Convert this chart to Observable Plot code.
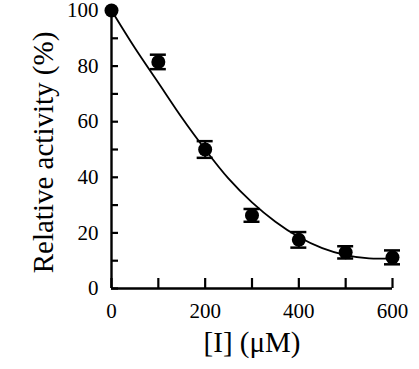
<!DOCTYPE html>
<html>
<head>
<meta charset="utf-8">
<script src="https://cdn.jsdelivr.net/npm/d3@7"></script>
<script src="https://cdn.jsdelivr.net/npm/@observablehq/plot@0.6"></script>
<style>
  html, body { margin: 0; padding: 0; background: #fff; }
  svg { font-family: "Liberation Serif", "Times New Roman", serif; }
</style>
</head>
<body>
<div id="chart"></div>
<script>
// Measured data (concentration of inhibitor, µM)
const conc = [0, 100, 200, 300, 400, 500, 600];
const activity = [100, 81.5, 50, 26.3, 17.5, 13, 11.2];
const errors = [0, 2.6, 3, 2.3, 2.8, 2.2, 2.5];

// Fitted curve
const fitX = [0, 50, 100, 150, 200, 250, 300, 350, 400, 450, 500, 550, 600];
const fitY = [100, 86.5, 74, 61.5, 50, 39.5, 31, 24, 18.5, 14.5, 12, 10.8, 10.8];

// Tick labels
const xTickLabels = [0, 200, 400, 600];
const xMinorTicks = [0, 100, 200, 300, 400, 500, 600];
const yTickLabels = [0, 20, 40, 60, 80, 100];
const yMinorTicks = [0, 10, 20, 30, 40, 50, 60, 70, 80, 90, 100];

const points = conc.map((x, i) => ({x, y: activity[i], lo: activity[i] - errors[i], hi: activity[i] + errors[i], e: errors[i]}));
const bars = points.filter(d => d.e > 0);
const fit = fitX.map((x, i) => ({x, y: fitY[i]}));

const chart = Plot.plot({
  width: 419,
  height: 369,
  marginLeft: 111,
  marginRight: 27,
  marginTop: 10,
  marginBottom: 81,
  style: {fontFamily: "Liberation Serif, serif", color: "#000", background: "#fff"},
  x: {domain: [0, 600], label: null},
  y: {domain: [0, 100], label: null},
  marks: [
    // minor ticks (inward)
    Plot.axisX({ticks: xMinorTicks, tickSize: 10, dy: -10, text: null, strokeWidth: 2.2}),
    Plot.axisY({ticks: yMinorTicks, tickSize: 7, dx: 7, text: null, strokeWidth: 2.2}),
    // labels
    Plot.axisX({ticks: xTickLabels, tickSize: 0, tickPadding: 15, fontSize: 21, tickFormat: d => String(d), label: null}),
    Plot.axisY({ticks: yTickLabels, tickSize: 0, tickPadding: 13, fontSize: 21, tickFormat: d => String(d), label: null}),
    // axis lines
    Plot.ruleY([0], {strokeWidth: 2.4}),
    Plot.ruleX([0], {strokeWidth: 2.4}),
    // fitted curve
    Plot.line(fit, {x: "x", y: "y", curve: "natural", strokeWidth: 1.8, stroke: "#000"}),
    // error bars
    Plot.ruleX(bars, {x: "x", y1: "lo", y2: "hi", strokeWidth: 2, stroke: "#000"}),
    Plot.ruleY(bars, {x1: "x", x2: "x", y: "lo", insetLeft: -8, insetRight: -8, strokeWidth: 2.5, stroke: "#000"}),
    Plot.ruleY(bars, {x1: "x", x2: "x", y: "hi", insetLeft: -8, insetRight: -8, strokeWidth: 2.5, stroke: "#000"}),
    // points
    Plot.dot(points, {x: "x", y: "y", r: 7, fill: "#000", stroke: "none"}),
    // axis titles
    Plot.text(["Relative activity (%)"], {frameAnchor: "left", textAnchor: "middle", lineAnchor: "middle", rotate: -90, dx: -68, dy: 3, fontSize: 29, fill: "#000"}),
    Plot.text(["[I] (\u03BCM)"], {frameAnchor: "bottom", textAnchor: "middle", lineAnchor: "bottom", dy: 63, fontSize: 29, fill: "#000"})
  ]
});
document.getElementById("chart").appendChild(chart);
</script>
</body>
</html>
